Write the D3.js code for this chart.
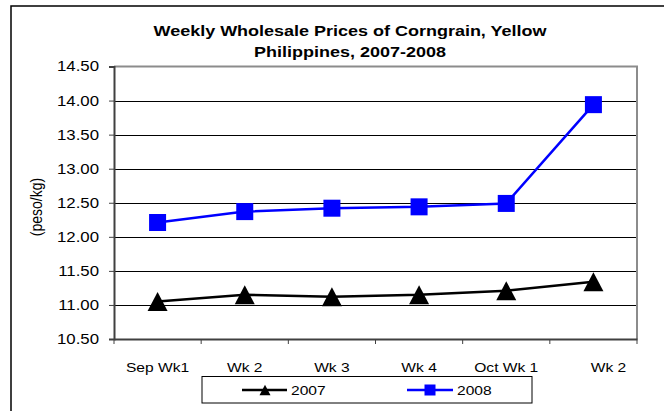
<!DOCTYPE html>
<html>
<head>
<meta charset="utf-8">
<script src="https://cdn.jsdelivr.net/npm/d3@7"></script>
<style>
  html, body { margin: 0; padding: 0; background: #fff; }
  svg { display: block; font-family: "Liberation Sans", Arial, sans-serif; }
</style>
</head>
<body>
<script>
const categories = ["Sep Wk1", "Wk 2", "Wk 3", "Wk 4", "Oct Wk 1", "Wk 2"];
const series2007 = [11.05, 11.15, 11.12, 11.15, 11.21, 11.34];
const series2008 = [12.21, 12.37, 12.42, 12.44, 12.49, 13.94];
const yTicks = [10.5, 11.0, 11.5, 12.0, 12.5, 13.0, 13.5, 14.0, 14.5];
const titleLines = ["Weekly Wholesale Prices of Corngrain, Yellow", "Philippines, 2007-2008"];
const yLabel = "(peso/kg)";
const seriesNames = ["2007", "2008"];

const W = 664, H = 411;
const SX = 1.2; // horizontal text stretch seen in reference
const plot = { left: 114, right: 637, top: 66.5, bottom: 339 };

const svg = d3.select("body").append("svg").attr("width", W).attr("height", H);

// outer frame (extends beyond right/bottom edges)
svg.append("rect").attr("x", 11).attr("y", 6).attr("width", 700).attr("height", 450)
  .attr("fill", "none").attr("stroke", "#000").attr("stroke-width", 1.5);

function stretch(sel) {
  sel.each(function () {
    const t = d3.select(this);
    const x = +t.attr("x") || 0;
    t.attr("x", x / SX).attr("transform", `scale(${SX},1)`);
  });
}

// title
const title = svg.append("g");
titleLines.forEach((s, i) => {
  title.append("text").attr("x", 350 / SX).attr("y", 36.5 + i * 21)
    .attr("transform", `scale(${SX},1)`)
    .attr("text-anchor", "middle").attr("font-weight", "bold").attr("font-size", 15)
    .attr("fill", "#000").text(s);
});

const idx = categories.map((_, i) => i);
const x = d3.scaleBand().domain(idx).range([plot.left, plot.right]).padding(0);
const y = d3.scaleLinear().domain([10.5, 14.5]).range([plot.bottom, plot.top]);
const cx = i => x(i) + x.bandwidth() / 2;

// gridlines
svg.append("g").selectAll("line").data(yTicks.slice(1, -1)).join("line")
  .attr("x1", plot.left).attr("x2", plot.right)
  .attr("y1", d => Math.round(y(d)) + 0.5).attr("y2", d => Math.round(y(d)) + 0.5)
  .attr("stroke", "#000").attr("stroke-width", 1);

// plot border top/right (gray)
svg.append("path")
  .attr("d", `M${plot.left},${plot.top}H${plot.right}V${plot.bottom}`)
  .attr("fill", "none").attr("stroke", "#8c8c8c").attr("stroke-width", 2);

// y axis
const yAxis = svg.append("g").attr("transform", `translate(${plot.left},0)`)
  .call(d3.axisLeft(y).tickValues(yTicks).tickFormat(d3.format(".2f")).tickSize(5).tickPadding(10));
yAxis.select(".domain").attr("stroke", "#404040").attr("stroke-width", 2);
yAxis.selectAll(".tick line").attr("stroke", "#404040").attr("stroke-width", 1);
yAxis.selectAll(".tick text").attr("font-size", 14).attr("fill", "#000")
  .attr("font-family", "Liberation Sans, Arial, sans-serif").call(stretch);

// x axis
const xAxis = svg.append("g").attr("transform", `translate(0,${plot.bottom})`)
  .call(d3.axisBottom(x).tickFormat(i => categories[i]).tickSize(0).tickPadding(24));
xAxis.select(".domain").attr("stroke", "#404040").attr("stroke-width", 2);
xAxis.selectAll(".tick text").attr("font-size", 13).attr("fill", "#000")
  .attr("font-family", "Liberation Sans, Arial, sans-serif")
  .attr("x", (d, i) => i === categories.length - 1 ? 15 : 0)
  .call(stretch);
// category boundary ticks
const bounds = idx.map(i => x(i)).concat([x(idx[idx.length - 1]) + x.bandwidth()]);
svg.append("g").selectAll("line").data(bounds).join("line")
  .attr("x1", d => d).attr("x2", d => d)
  .attr("y1", plot.bottom).attr("y2", plot.bottom + 5)
  .attr("stroke", "#404040").attr("stroke-width", 1);

// y label
svg.append("text")
  .attr("transform", `translate(42,207) rotate(-90) scale(1,${SX})`)
  .attr("text-anchor", "middle").attr("font-size", 14).attr("fill", "#000").text(yLabel);

// lines
const line = d3.line().x((d, i) => cx(i)).y(d => y(d));
svg.append("path").datum(series2007).attr("d", line)
  .attr("fill", "none").attr("stroke", "#000").attr("stroke-width", 2.5);
svg.append("path").datum(series2008).attr("d", line)
  .attr("fill", "none").attr("stroke", "#0000ff").attr("stroke-width", 2.5);

function tri(s) {
  const h = s * 0.95;
  return `M0,${-h / 2}L${s / 2},${h / 2}L${-s / 2},${h / 2}Z`;
}
// markers
svg.append("g").selectAll("path").data(series2007).join("path")
  .attr("transform", (d, i) => `translate(${cx(i)},${y(d)})`)
  .attr("d", tri(20)).attr("fill", "#000");
svg.append("g").selectAll("rect").data(series2008).join("rect")
  .attr("x", (d, i) => cx(i) - 8.5).attr("y", d => y(d) - 8.5)
  .attr("width", 17).attr("height", 17).attr("fill", "#0000ff");

// legend
const lg = svg.append("g");
lg.append("rect").attr("x", 202).attr("y", 376.5).attr("width", 330).attr("height", 26.5)
  .attr("fill", "#fff").attr("stroke", "#000").attr("stroke-width", 1);
const ly = 390;
lg.append("line").attr("x1", 242).attr("x2", 287).attr("y1", ly).attr("y2", ly)
  .attr("stroke", "#000").attr("stroke-width", 2.5);
lg.append("path").attr("transform", `translate(265,${ly})`).attr("d", tri(11)).attr("fill", "#000");
lg.append("text").attr("x", 291 / SX).attr("y", ly + 5).attr("transform", `scale(${SX},1)`)
  .attr("font-size", 13).attr("fill", "#000").text(seriesNames[0]);
lg.append("line").attr("x1", 407).attr("x2", 453).attr("y1", ly).attr("y2", ly)
  .attr("stroke", "#0000ff").attr("stroke-width", 2.5);
lg.append("rect").attr("x", 430 - 5.5).attr("y", ly - 5.5).attr("width", 11).attr("height", 11).attr("fill", "#0000ff");
lg.append("text").attr("x", 457 / SX).attr("y", ly + 5).attr("transform", `scale(${SX},1)`)
  .attr("font-size", 13).attr("fill", "#000").text(seriesNames[1]);
</script>
</body>
</html>
